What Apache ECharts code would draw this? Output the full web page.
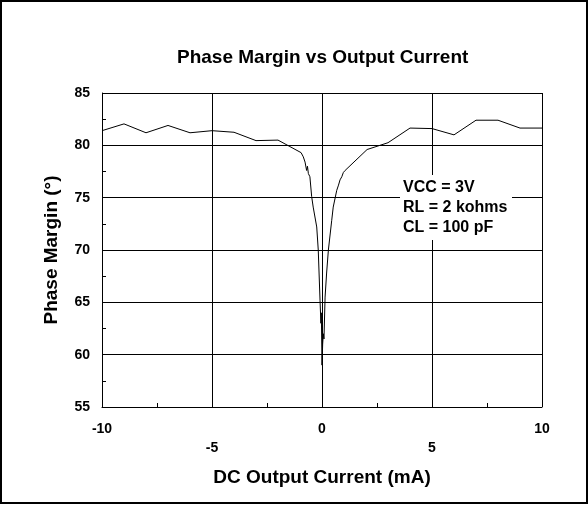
<!DOCTYPE html>
<html>
<head>
<meta charset="utf-8">
<script src="https://cdn.jsdelivr.net/npm/echarts@6/dist/echarts.min.js"></script>
<style>
  html, body { margin: 0; padding: 0; background: #fff; }
  #chart { width: 588px; height: 505px; }
</style>
</head>
<body>
<div id="chart"></div>
<script>
// DC output current (mA)
var currents = [
  -10, -9, -8, -7, -6, -5, -4, -3, -2, -0.95, -0.85, -0.77, -0.7, -0.66, -0.62, -0.55,
  -0.47, -0.4, -0.24, -0.17, -0.09, -0.05, -0.03, 0,
  0.03, 0.06, 0.09, 0.14, 0.21, 0.29, 0.44, 0.51, 0.67, 0.75, 0.82, 0.9, 0.97, 1.05,
  2.05, 3, 4, 5, 6, 7, 8, 9, 10
];
// phase margin (degrees)
var phaseMargin = [
  81.4, 82.05, 81.2, 81.9, 81.2, 81.4, 81.25, 80.45, 80.5, 79.3, 78.9, 78.4, 77.6, 78.0, 77.3, 77.0,
  75.1, 74.1, 72.2, 70.0, 65.2, 63.0, 64.0, 59.0,
  61.0, 62.0, 61.5, 65.5, 67.8, 70.0, 72.8, 74.1, 75.7, 76.2, 76.7, 77.0, 77.4, 77.6,
  79.6, 80.25, 81.65, 81.6, 81.0, 82.4, 82.4, 81.65, 81.65
];
var notes = ['VCC = 3V', 'RL = 2 kohms', 'CL = 100 pF'];

var font = 'Liberation Sans, Arial, sans-serif';
var chart = echarts.init(document.getElementById('chart'));

chart.setOption({
  animation: false,
  backgroundColor: '#fff',
  title: {
    text: 'Phase Margin vs Output Current',
    left: 172,
    top: 43,
    textStyle: { fontFamily: font, fontSize: 19, fontWeight: 'bold', color: '#000' }
  },
  grid: { left: 102, right: 46, top: 93, bottom: 98 },
  xAxis: {
    type: 'value',
    min: -10,
    max: 10,
    interval: 5,
    name: 'DC Output Current (mA)',
    nameLocation: 'middle',
    nameGap: 61,
    nameTextStyle: { fontFamily: font, fontSize: 19, fontWeight: 'bold', color: '#000' },
    axisLine: { onZero: false, lineStyle: { color: '#000', width: 1 } },
    axisTick: { show: false, inside: true },
    minorTick: { show: true, splitNumber: 2, length: 4, lineStyle: { color: '#000' } },
    splitLine: { show: true, lineStyle: { color: '#000', width: 1 } },
    axisLabel: {
      margin: 13,
      fontFamily: font, fontSize: 14, fontWeight: 'bold', color: '#000',
      lineHeight: 19,
      formatter: function (v) {
        // odd multiples of 5 sit on a second row
        return Math.abs(v) === 5 ? '\n' + v : String(v);
      }
    }
  },
  yAxis: {
    type: 'value',
    min: 55,
    max: 85,
    interval: 5,
    name: 'Phase Margin (°)',
    nameLocation: 'middle',
    nameGap: 41,
    nameTextStyle: { fontFamily: font, fontSize: 19, fontWeight: 'bold', color: '#000' },
    axisLine: { show: true, onZero: false, lineStyle: { color: '#000', width: 1 } },
    axisTick: { show: false, inside: true },
    minorTick: { show: true, splitNumber: 2, length: 4, lineStyle: { color: '#000' } },
    splitLine: { show: true, lineStyle: { color: '#000', width: 1 } },
    axisLabel: {
      margin: 12,
      fontFamily: font, fontSize: 14, fontWeight: 'bold', color: '#000'
    }
  },
  series: [{
    type: 'line',
    data: currents.map(function (x, i) { return [x, phaseMargin[i]]; }),
    showSymbol: false,
    symbol: 'none',
    lineStyle: { color: '#000', width: 1 },
    z: 3
  }],
  graphic: [
    {
      type: 'rect',
      shape: { x: 1, y: 1, width: 586, height: 502 },
      style: { fill: 'none', stroke: '#000', lineWidth: 2 },
      silent: true
    },
    {
      type: 'rect',
      z: 100,
      shape: { x: 400, y: 175, width: 112, height: 65 },
      style: { fill: '#fff' }
    },
    {
      type: 'text',
      z: 101,
      x: 403,
      y: 178,
      style: {
        text: notes.join('\n'),
        fontFamily: font, fontSize: 16, fontWeight: 'bold',
        fill: '#000', lineHeight: 20
      }
    }
  ]
});
</script>
</body>
</html>
